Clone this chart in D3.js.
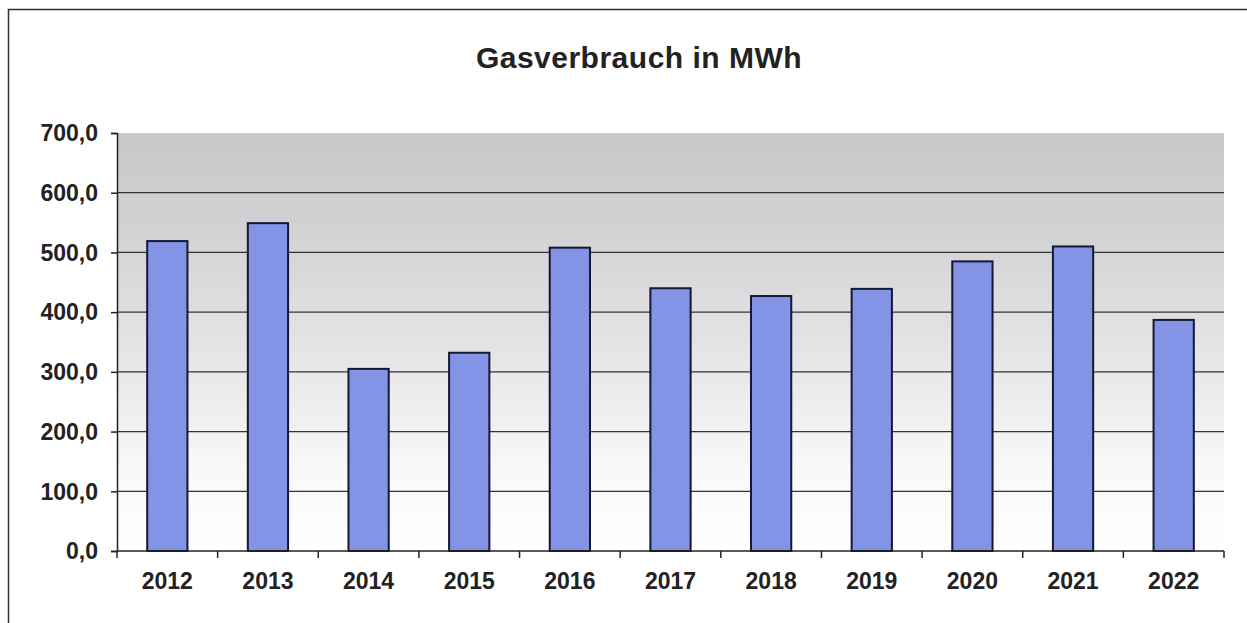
<!DOCTYPE html>
<html lang="de">
<head>
<meta charset="utf-8">
<title>Gasverbrauch in MWh</title>
<script src="https://d3js.org/d3.v7.min.js"></script>
<style>
body { margin: 0; background: #fff; }
text { font-family: "Liberation Sans", Arial, sans-serif; font-weight: bold; fill: #222; }
</style>
</head>
<body>
<div id="chart"></div>
<script>
const years = ["2012", "2013", "2014", "2015", "2016", "2017", "2018", "2019", "2020", "2021", "2022"];
const gasMWh = [519, 549, 305, 332, 508, 440, 427, 439, 485, 510, 387];
const yTicks = [0, 100, 200, 300, 400, 500, 600, 700];

const width = 1247, height = 623;
const plot = { left: 117, right: 1224, top: 133, bottom: 551 };

const svg = d3.select("#chart").append("svg")
    .attr("width", width)
    .attr("height", height);

// outer frame
svg.append("rect")
    .attr("x", 8.5).attr("y", 9.5)
    .attr("width", 1260).attr("height", 640)
    .attr("fill", "none")
    .attr("stroke", "#333")
    .attr("stroke-width", 1.5);

svg.append("text")
    .attr("x", 639).attr("y", 68)
    .attr("text-anchor", "middle")
    .style("font-size", "30px")
    .style("letter-spacing", "0.5px")
    .text("Gasverbrauch in MWh");

const x = d3.scaleBand()
    .domain(years)
    .range([plot.left, plot.right])
    .paddingInner(0.6)
    .paddingOuter(0.3);

const y = d3.scaleLinear()
    .domain([0, 700])
    .range([plot.bottom, plot.top]);

// background gradient
const grad = svg.append("defs").append("linearGradient")
    .attr("id", "bg").attr("x1", 0).attr("y1", 0).attr("x2", 0).attr("y2", 1);
grad.append("stop").attr("offset", "0%").attr("stop-color", "#c8c8c9");
grad.append("stop").attr("offset", "20%").attr("stop-color", "#d0d0d2");
grad.append("stop").attr("offset", "50%").attr("stop-color", "#e3e3e5");
grad.append("stop").attr("offset", "80%").attr("stop-color", "#f8f8f9");
grad.append("stop").attr("offset", "100%").attr("stop-color", "#ffffff");

svg.append("rect")
    .attr("x", plot.left).attr("y", plot.top)
    .attr("width", plot.right - plot.left)
    .attr("height", plot.bottom - plot.top)
    .attr("fill", "url(#bg)");

// gridlines
svg.append("g")
    .selectAll("line")
    .data(yTicks.filter(d => d > 0 && d < 700))
    .join("line")
    .attr("x1", plot.left).attr("x2", plot.right)
    .attr("y1", d => y(d)).attr("y2", d => y(d))
    .attr("stroke", "#333")
    .attr("stroke-width", 1.3);

// bars
svg.append("g")
    .selectAll("rect")
    .data(years)
    .join("rect")
    .attr("x", d => x(d))
    .attr("y", (d, i) => y(gasMWh[i]))
    .attr("width", x.bandwidth())
    .attr("height", (d, i) => y(0) - y(gasMWh[i]))
    .attr("fill", "#8393e6")
    .attr("stroke", "#141832")
    .attr("stroke-width", 2);

const fmt = d => d3.format(".1f")(d).replace(".", ",");

const yAxis = svg.append("g")
    .attr("transform", "translate(" + plot.left + ",0)")
    .call(d3.axisLeft(y).tickValues(yTicks).tickFormat(fmt).tickSize(6).tickPadding(13));
yAxis.select(".domain").attr("stroke", "#222").attr("stroke-width", 1.5);
yAxis.selectAll(".tick line").attr("stroke", "#222").attr("stroke-width", 1.5);
yAxis.selectAll("text").style("font-size", "23px").attr("fill", "#222").attr("dy", "0.34em");

// x axis: ticks between categories
const xEdges = d3.range(years.length + 1).map(i => plot.left + i * (plot.right - plot.left) / years.length);
const xAxis = svg.append("g");
xAxis.append("line")
    .attr("x1", plot.left).attr("x2", plot.right)
    .attr("y1", plot.bottom).attr("y2", plot.bottom)
    .attr("stroke", "#222").attr("stroke-width", 1.5);
xAxis.selectAll(".xt")
    .data(xEdges)
    .join("line")
    .attr("class", "xt")
    .attr("x1", d => d).attr("x2", d => d)
    .attr("y1", plot.bottom).attr("y2", plot.bottom + 7)
    .attr("stroke", "#222").attr("stroke-width", 1.5);
xAxis.selectAll("text")
    .data(years)
    .join("text")
    .attr("x", d => x(d) + x.bandwidth() / 2)
    .attr("y", plot.bottom + 38)
    .attr("text-anchor", "middle")
    .style("font-size", "23px")
    .text(d => d);
</script>
</body>
</html>
